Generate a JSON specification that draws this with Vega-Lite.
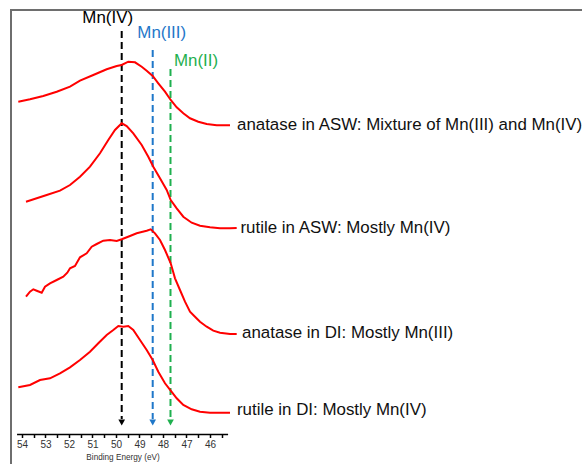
{
  "$schema": "https://vega.github.io/schema/vega-lite/v6.json",
  "autosize": {"type": "none"},
  "padding": {"left": 11, "top": 10, "right": 0, "bottom": 0},
  "width": 580,
  "height": 470,
  "config": {"view": {"stroke": "#6e6e6e", "strokeWidth": 2}, "font": "Liberation Sans"},
  "datasets": {
    "axisline": [{"be": 54.21, "be2": 45.23, "v": 45.5}],
    "markers": [
      {"state": "Mn(IV)", "be": 49.757, "v": 449, "v2": 61},
      {"state": "Mn(III)", "be": 48.438, "v": 430, "v2": 61},
      {"state": "Mn(II)", "be": 47.681, "v": 411, "v2": 61}
    ],
    "tips": [
      {"state": "Mn(IV)", "be": 49.757, "v": 57.5},
      {"state": "Mn(III)", "be": 48.438, "v": 57.5},
      {"state": "Mn(II)", "be": 47.681, "v": 57.5}
    ],
    "statelabels": [
      {"state": "Mn(IV)", "be": 50.353, "v": 461.7},
      {"state": "Mn(III)", "be": 48.055, "v": 446.7},
      {"state": "Mn(II)", "be": 46.596, "v": 419}
    ],
    "samplelabels": [
      {"label": "anatase in ASW: Mixture of Mn(III) and Mn(IV)", "be": 44.851, "v": 355},
      {"label": "rutile in ASW: Mostly Mn(IV)", "be": 44.702, "v": 252},
      {"label": "anatase in DI: Mostly Mn(III)", "be": 44.638, "v": 147},
      {"label": "rutile in DI: Mostly Mn(IV)", "be": 44.851, "v": 70}
    ],
    "spectra": [
      {"sample": "anatase ASW", "be": 54.157, "v": 378.3},
      {"sample": "anatase ASW", "be": 53.660, "v": 380.7},
      {"sample": "anatase ASW", "be": 53.094, "v": 384},
      {"sample": "anatase ASW", "be": 52.523, "v": 388.3},
      {"sample": "anatase ASW", "be": 51.957, "v": 393.3},
      {"sample": "anatase ASW", "be": 51.532, "v": 399.3},
      {"sample": "anatase ASW", "be": 50.966, "v": 405},
      {"sample": "anatase ASW", "be": 50.396, "v": 410.7},
      {"sample": "anatase ASW", "be": 49.970, "v": 414},
      {"sample": "anatase ASW", "be": 49.757, "v": 415},
      {"sample": "anatase ASW", "be": 49.477, "v": 418.3},
      {"sample": "anatase ASW", "be": 49.191, "v": 417.7},
      {"sample": "anatase ASW", "be": 48.906, "v": 413.3},
      {"sample": "anatase ASW", "be": 48.694, "v": 409.3},
      {"sample": "anatase ASW", "be": 48.438, "v": 404},
      {"sample": "anatase ASW", "be": 48.200, "v": 396.7},
      {"sample": "anatase ASW", "be": 47.915, "v": 388.3},
      {"sample": "anatase ASW", "be": 47.672, "v": 380},
      {"sample": "anatase ASW", "be": 47.417, "v": 372.7},
      {"sample": "anatase ASW", "be": 47.136, "v": 366.7},
      {"sample": "anatase ASW", "be": 46.851, "v": 361.7},
      {"sample": "anatase ASW", "be": 46.498, "v": 358.3},
      {"sample": "anatase ASW", "be": 46.140, "v": 356},
      {"sample": "anatase ASW", "be": 45.715, "v": 354.7},
      {"sample": "anatase ASW", "be": 45.149, "v": 354.7},

      {"sample": "rutile ASW", "be": 53.830, "v": 278.3},
      {"sample": "rutile ASW", "be": 53.374, "v": 281.7},
      {"sample": "rutile ASW", "be": 52.949, "v": 285},
      {"sample": "rutile ASW", "be": 52.383, "v": 289.3},
      {"sample": "rutile ASW", "be": 51.957, "v": 295},
      {"sample": "rutile ASW", "be": 51.532, "v": 303.3},
      {"sample": "rutile ASW", "be": 51.106, "v": 313.3},
      {"sample": "rutile ASW", "be": 50.681, "v": 326.7},
      {"sample": "rutile ASW", "be": 50.328, "v": 340},
      {"sample": "rutile ASW", "be": 50.043, "v": 350},
      {"sample": "rutile ASW", "be": 49.757, "v": 356.7},
      {"sample": "rutile ASW", "be": 49.545, "v": 354},
      {"sample": "rutile ASW", "be": 49.264, "v": 346.7},
      {"sample": "rutile ASW", "be": 48.906, "v": 335},
      {"sample": "rutile ASW", "be": 48.626, "v": 323.3},
      {"sample": "rutile ASW", "be": 48.413, "v": 313.3},
      {"sample": "rutile ASW", "be": 48.128, "v": 301.7},
      {"sample": "rutile ASW", "be": 47.843, "v": 290},
      {"sample": "rutile ASW", "be": 47.672, "v": 280},
      {"sample": "rutile ASW", "be": 47.417, "v": 271.7},
      {"sample": "rutile ASW", "be": 47.136, "v": 263.3},
      {"sample": "rutile ASW", "be": 46.779, "v": 257.3},
      {"sample": "rutile ASW", "be": 46.426, "v": 254.3},
      {"sample": "rutile ASW", "be": 46.000, "v": 252.7},
      {"sample": "rutile ASW", "be": 45.574, "v": 251.7},
      {"sample": "rutile ASW", "be": 45.149, "v": 251.7},
      {"sample": "rutile ASW", "be": 44.864, "v": 252},

      {"sample": "anatase DI", "be": 53.830, "v": 183.3},
      {"sample": "anatase DI", "be": 53.660, "v": 188.3},
      {"sample": "anatase DI", "be": 53.519, "v": 190.7},
      {"sample": "anatase DI", "be": 53.374, "v": 189.3},
      {"sample": "anatase DI", "be": 53.162, "v": 187.3},
      {"sample": "anatase DI", "be": 53.021, "v": 193.3},
      {"sample": "anatase DI", "be": 52.809, "v": 196.7},
      {"sample": "anatase DI", "be": 52.523, "v": 200},
      {"sample": "anatase DI", "be": 52.243, "v": 203.3},
      {"sample": "anatase DI", "be": 52.072, "v": 207.3},
      {"sample": "anatase DI", "be": 51.957, "v": 211.7},
      {"sample": "anatase DI", "be": 51.745, "v": 214},
      {"sample": "anatase DI", "be": 51.532, "v": 222.7},
      {"sample": "anatase DI", "be": 51.247, "v": 226.7},
      {"sample": "anatase DI", "be": 51.034, "v": 233.3},
      {"sample": "anatase DI", "be": 50.821, "v": 236},
      {"sample": "anatase DI", "be": 50.540, "v": 239.3},
      {"sample": "anatase DI", "be": 50.255, "v": 240},
      {"sample": "anatase DI", "be": 49.970, "v": 239},
      {"sample": "anatase DI", "be": 49.757, "v": 240.7},
      {"sample": "anatase DI", "be": 49.404, "v": 244},
      {"sample": "anatase DI", "be": 49.119, "v": 246.7},
      {"sample": "anatase DI", "be": 48.906, "v": 248},
      {"sample": "anatase DI", "be": 48.694, "v": 249.3},
      {"sample": "anatase DI", "be": 48.523, "v": 250.7},
      {"sample": "anatase DI", "be": 48.340, "v": 246.7},
      {"sample": "anatase DI", "be": 48.128, "v": 240},
      {"sample": "anatase DI", "be": 47.915, "v": 230},
      {"sample": "anatase DI", "be": 47.672, "v": 216.7},
      {"sample": "anatase DI", "be": 47.489, "v": 201.7},
      {"sample": "anatase DI", "be": 47.277, "v": 190},
      {"sample": "anatase DI", "be": 47.064, "v": 178.3},
      {"sample": "anatase DI", "be": 46.851, "v": 168.3},
      {"sample": "anatase DI", "be": 46.638, "v": 163.3},
      {"sample": "anatase DI", "be": 46.426, "v": 158.3},
      {"sample": "anatase DI", "be": 46.140, "v": 153.3},
      {"sample": "anatase DI", "be": 45.860, "v": 149.3},
      {"sample": "anatase DI", "be": 45.574, "v": 147.3},
      {"sample": "anatase DI", "be": 45.149, "v": 146},
      {"sample": "anatase DI", "be": 44.864, "v": 146},

      {"sample": "rutile DI", "be": 54.157, "v": 92.7},
      {"sample": "rutile DI", "be": 53.660, "v": 95},
      {"sample": "rutile DI", "be": 53.234, "v": 100},
      {"sample": "rutile DI", "be": 52.809, "v": 101.7},
      {"sample": "rutile DI", "be": 52.383, "v": 106.7},
      {"sample": "rutile DI", "be": 51.957, "v": 112.7},
      {"sample": "rutile DI", "be": 51.532, "v": 120},
      {"sample": "rutile DI", "be": 51.106, "v": 128.3},
      {"sample": "rutile DI", "be": 50.753, "v": 136.7},
      {"sample": "rutile DI", "be": 50.396, "v": 145},
      {"sample": "rutile DI", "be": 50.115, "v": 150},
      {"sample": "rutile DI", "be": 49.902, "v": 154},
      {"sample": "rutile DI", "be": 49.689, "v": 153.3},
      {"sample": "rutile DI", "be": 49.477, "v": 154},
      {"sample": "rutile DI", "be": 49.264, "v": 150},
      {"sample": "rutile DI", "be": 48.979, "v": 140},
      {"sample": "rutile DI", "be": 48.694, "v": 130},
      {"sample": "rutile DI", "be": 48.438, "v": 120},
      {"sample": "rutile DI", "be": 48.200, "v": 108.3},
      {"sample": "rutile DI", "be": 47.915, "v": 96.7},
      {"sample": "rutile DI", "be": 47.672, "v": 89.3},
      {"sample": "rutile DI", "be": 47.417, "v": 81.7},
      {"sample": "rutile DI", "be": 47.136, "v": 75},
      {"sample": "rutile DI", "be": 46.779, "v": 70.7},
      {"sample": "rutile DI", "be": 46.426, "v": 68.3},
      {"sample": "rutile DI", "be": 46.000, "v": 67.3},
      {"sample": "rutile DI", "be": 45.574, "v": 67.3},
      {"sample": "rutile DI", "be": 45.149, "v": 67.3}
    ]
  },
  "encoding": {
    "x": {
      "field": "be",
      "type": "quantitative",
      "scale": {"domain": [54.468, 29.787], "nice": false, "zero": false},
      "axis": {
        "title": "Binding Energy (eV)",
        "offset": -45.5,
        "domain": false,
        "grid": false,
        "values": [54, 53.5, 53, 52.5, 52, 51.5, 51, 50.5, 50, 49.5, 49, 48.5, 48, 47.5, 47, 46.5, 46, 45.5],
        "labelExpr": "datum.value % 1 === 0 ? format(datum.value, 'd') : ''",
        "tickSize": 3,
        "tickWidth": 1.5,
        "tickColor": "#000000",
        "labelFontSize": 10,
        "labelColor": "#333333",
        "labelPadding": 2,
        "titleFontSize": 8.2,
        "titleFontWeight": "normal",
        "titleColor": "#333333",
        "titleX": 111.5,
        "titleY": 19,
        "titleBaseline": "top",
        "titleAlign": "center"
      }
    },
    "y": {
      "field": "v",
      "type": "quantitative",
      "scale": {"domain": [0, 470], "nice": false, "zero": false},
      "axis": null
    }
  },
  "layer": [
    {
      "data": {"name": "axisline"},
      "mark": {"type": "rule", "color": "#000000", "strokeWidth": 1.5},
      "encoding": {"x2": {"field": "be2"}}
    },
    {
      "data": {"name": "markers"},
      "mark": {"type": "rule", "strokeDash": [7, 4], "strokeWidth": 2},
      "encoding": {
        "y2": {"field": "v2"},
        "color": {"field": "state", "type": "nominal", "scale": {"domain": ["Mn(IV)", "Mn(III)", "Mn(II)"], "range": ["#000000", "#1f77c9", "#1fb04f"]}, "legend": null}
      }
    },
    {
      "data": {"name": "tips"},
      "mark": {"type": "point", "shape": "triangle-down", "filled": true, "opacity": 1, "size": 45},
      "encoding": {
        "color": {"field": "state", "type": "nominal", "legend": null}
      }
    },
    {
      "data": {"name": "statelabels"},
      "mark": {"type": "text", "fontSize": 16.9, "align": "center", "baseline": "middle"},
      "encoding": {
        "text": {"field": "state"},
        "color": {"field": "state", "type": "nominal", "legend": null}
      }
    },
    {
      "data": {"name": "spectra"},
      "mark": {"type": "line", "color": "#ff0000", "strokeWidth": 2},
      "encoding": {"detail": {"field": "sample"}}
    },
    {
      "data": {"name": "samplelabels"},
      "mark": {"type": "text", "fontSize": 16.9, "align": "left", "baseline": "middle", "color": "#111111"},
      "encoding": {"text": {"field": "label"}}
    }
  ]
}
